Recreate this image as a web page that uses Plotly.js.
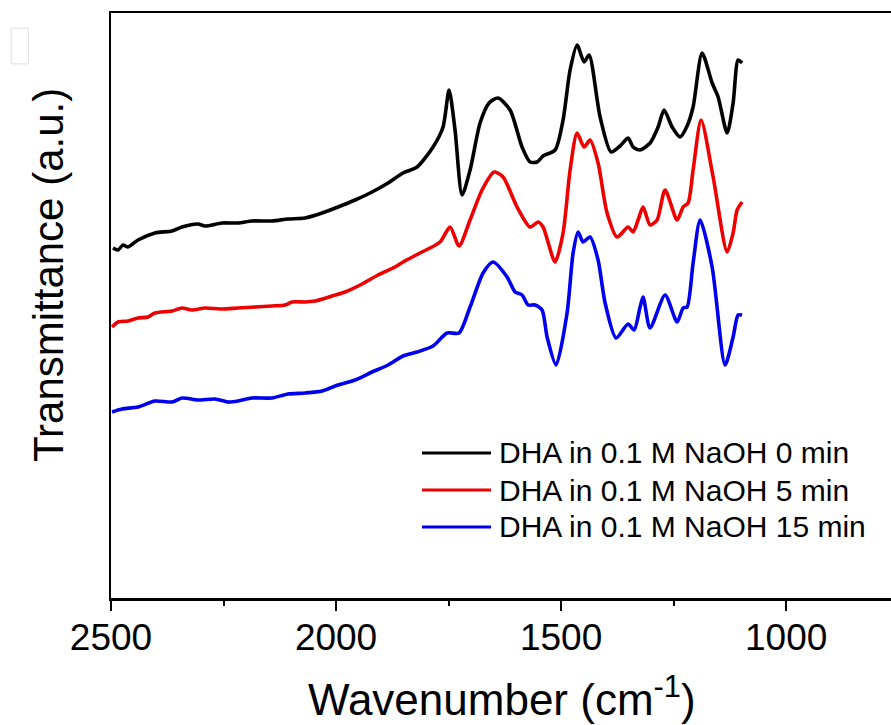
<!DOCTYPE html>
<html>
<head>
<meta charset="utf-8">
<script src="https://cdn.plot.ly/plotly-3.0.1.min.js"></script>
<style>html,body{margin:0;padding:0;background:#fff;}#chart{width:891px;height:725px;}</style>
</head>
<body>
<div id="chart"></div>
<script>
// Series names
const seriesNames = ["DHA in 0.1 M NaOH 0 min", "DHA in 0.1 M NaOH 5 min", "DHA in 0.1 M NaOH 15 min"];
const seriesColors = ["#000000", "#ee0000", "#0000ee"];

// 0 min (black)
const wn0 = [2495.6,2484.4,2473.3,2462.2,2440,2402.2,2364.4,2342.2,2306.7,2291.1,2253.3,2217.8,2186.7,2142.2,2106.7,2068.9,2031.1,1995.6,1957.8,1920,1884.4,1851.1,1820,1784.4,1762.2,1748.9,1735.6,1720,1702.2,1680,1660,1640,1613.3,1586.7,1568.9,1553.3,1540,1513.3,1495.6,1480,1464.4,1448.9,1437.8,1413.3,1388.9,1368.9,1351.1,1340,1324.4,1302.2,1284.4,1271.1,1253.3,1235.6,1220,1206.7,1186.7,1164.4,1151.1,1131.1,1117.8,1106.7,1097.8];
const t0 = [350,348,353,351,358,365,367,371,374,372,375,375,377,377,379,380,385,391,398,406,415,425,431,451,471,508,468,403,428,475,495,500,488,451,436,436,442,448,478,528,553,536,543,481,446,452,460,451,448,455,471,488,471,461,472,491,545,515,501,465,495,538,535];

// 5 min (red)
const wn5 = [2497.8,2484.4,2462.2,2440,2417.8,2402.2,2364.4,2342.2,2320,2291.1,2253.3,2217.8,2180,2142.2,2113.3,2097.8,2068.9,2046.7,2008.9,1980,1942.2,1906.7,1868.9,1851.1,1813.3,1768.9,1746.7,1726.7,1702.2,1675.6,1648.9,1628.9,1597.8,1568.9,1551.1,1540,1513.3,1495.6,1480,1464.4,1448.9,1435.6,1417.8,1397.8,1375.6,1351.1,1340,1328.9,1317.8,1302.2,1286.7,1268.9,1242.2,1228.9,1217.8,1206.7,1188.9,1162.2,1131.1,1117.8,1108.9,1097.8];
const t5 = [271,276,277,280,281,285,287,290,288,290,289,290,291,292,293,296,296,297,302,306,314,323,331,336,345,356,371,352,378,408,426,421,391,371,376,371,336,365,428,465,451,458,435,385,361,371,366,378,391,373,378,408,378,391,395,428,478,421,346,365,388,396];

// 15 min (blue)
const wn15 = [2497.8,2475.6,2440,2402.2,2364.4,2342.2,2306.7,2268.9,2240,2217.8,2186.7,2142.2,2106.7,2068.9,2031.1,1995.6,1957.8,1920,1884.4,1851.1,1820,1784.4,1753.3,1726.7,1702.2,1673.3,1651.1,1620,1602.2,1586.7,1573.3,1557.8,1542.2,1531.1,1511.1,1486.7,1473.3,1462.2,1451.1,1435.6,1417.8,1402.2,1377.8,1351.1,1337.8,1324.4,1317.8,1302.2,1268.9,1242.2,1228.9,1220,1206.7,1191.1,1164.4,1135.6,1117.8,1106.7,1097.8];
const t15 = [186,189,191,197,196,200,198,199,196,197,200,200,204,205,207,213,218,226,233,242,246,252,265,265,291,325,336,321,306,303,293,293,288,261,233,285,345,366,356,361,338,295,260,274,268,291,301,270,303,276,290,291,335,378,331,233,261,283,283];

// Axis ticks
const xTickVals = [2500, 2000, 1500, 1000];
const xTickText = ["2500", "2000", "1500", "1000"];
const xMinorVals = [2250, 1750, 1250, 750];
const xTitle = 'Wavenumber (cm<sup>-1</sup>)';
const yTitle = 'Transmittance (a.u.)';

const xs = [wn0, wn5, wn15];
const ys = [t0, t5, t15];
// the black (top) trace is drawn on the overlay axis, which shares the same scale
const xAxisOf = ['x2', 'x', 'x'];

const traces = xs.map((x, i) => ({
  x: x, y: ys[i], type: 'scatter', mode: 'lines', name: seriesNames[i],
  xaxis: xAxisOf[i], yaxis: 'y',
  line: {color: seriesColors[i], width: 3.6, shape: 'spline', smoothing: 0.7},
  showlegend: false
}));

// custom legend (long line samples like the reference)
const legY = [0.2479, 0.1846, 0.1214];
const shapes = seriesNames.map((n, i) => ({
  type: 'line', xref: 'paper', yref: 'paper',
  x0: 0.3987, x1: 0.4872, y0: legY[i], y1: legY[i],
  line: {color: seriesColors[i], width: 3}
}));
shapes.push({type: 'rect', xref: 'paper', yref: 'paper', x0: -0.128, x1: -0.106, y0: 0.913, y1: 0.974,
  line: {color: '#e0e0e0', width: 1}, fillcolor: 'rgba(0,0,0,0)'});
const annotations = seriesNames.map((n, i) => ({
  xref: 'paper', yref: 'paper', x: 0.4949, y: legY[i], xanchor: 'left', yanchor: 'middle',
  text: n, showarrow: false, font: {size: 30, color: '#000', family: 'Liberation Sans, Arial, sans-serif'}
}));
// axis titles placed like the reference
annotations.push({
  xref: 'paper', yref: 'paper', x: -0.0808, y: 0.552, xanchor: 'center', yanchor: 'middle',
  text: yTitle, textangle: -90, showarrow: false,
  font: {size: 42, color: '#000', family: 'Liberation Sans, Arial, sans-serif'}
});
annotations.push({
  xref: 'paper', yref: 'paper', x: 0.501, y: -0.168, xanchor: 'center', yanchor: 'middle',
  text: xTitle, showarrow: false,
  font: {size: 44, color: '#000', family: 'Liberation Sans, Arial, sans-serif'}
});

const layout = {
  width: 891, height: 725,
  margin: {l: 111, r: 0, t: 13, b: 127, pad: 0},
  paper_bgcolor: '#fff', plot_bgcolor: '#fff',
  font: {family: 'Liberation Sans, Arial, sans-serif', color: '#000'},
  showlegend: false,
  xaxis: {
    range: [2500, 767], showgrid: false, zeroline: false,
    showline: true, linecolor: '#000', linewidth: 2.5, mirror: true,
    ticks: 'outside', ticklen: 5, tickwidth: 2, tickcolor: 'rgba(0,0,0,0)',
    tickvals: xTickVals, ticktext: xTickText,
    tickfont: {size: 37, color: '#000'}
  },
  // overlay axis that carries the long major ticks and the minor ticks
  xaxis2: {
    overlaying: 'x', anchor: 'y', side: 'bottom', matches: 'x',
    range: [2500, 767], showgrid: false, zeroline: false, showline: false,
    ticks: 'outside', ticklen: 12, tickwidth: 2, tickcolor: '#000',
    tickvals: xTickVals, showticklabels: false,
    minor: {tickvals: xMinorVals, ticks: 'outside', ticklen: 7, tickwidth: 2, tickcolor: '#000'}
  },
  yaxis: {
    range: [0, 585], showgrid: false, zeroline: false,
    showline: true, linecolor: '#000', linewidth: 2.5, mirror: false,
    showticklabels: false, ticks: ''
  },
  shapes: shapes,
  annotations: annotations
};

Plotly.newPlot('chart', traces, layout, {staticPlot: true, displayModeBar: false});
</script>
</body>
</html>
